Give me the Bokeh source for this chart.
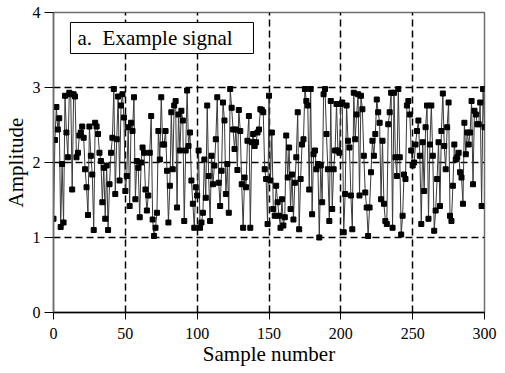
from bokeh.plotting import figure
from bokeh.models import Range1d, FixedTicker, BoxAnnotation, Label, ColumnDataSource
from bokeh.embed import file_html
from bokeh.resources import INLINE

# Amplitude values, split by sample range
amp_000_047 = [1.25, 2.30, 2.74, 2.44, 2.59, 1.14, 1.98, 1.20, 2.89, 2.40,
               2.07, 2.93, 2.91, 1.64, 2.91, 2.88, 2.07, 2.13, 2.36, 2.40,
               2.48, 2.33, 1.91, 1.67, 1.30, 2.48, 2.09, 1.84, 1.10, 2.53,
               2.48, 2.38, 2.13, 2.02, 1.47, 1.93, 1.25, 1.96, 1.10, 1.71,
               2.13, 2.33, 2.98, 1.58, 2.31, 2.88, 1.76, 2.76]
amp_048_098 = [2.91, 2.60, 1.62, 1.82, 2.47, 1.42, 2.53, 2.42, 2.87, 1.51,
               2.02, 1.93, 1.27, 2.00, 2.20, 2.13, 1.64, 1.36, 1.56, 2.13,
               2.62, 1.24, 1.02, 1.13, 1.33, 2.42, 2.04, 2.87, 2.24, 2.24,
               2.42, 1.89, 1.20, 1.69, 2.67, 1.91, 2.76, 2.82, 1.40, 2.64,
               2.16, 2.69, 2.56, 1.22, 2.16, 2.96, 2.22, 2.40, 1.76, 1.45,
               1.13]
amp_099_153 = [1.67, 1.56, 2.16, 1.13, 1.20, 1.33, 2.04, 1.53, 2.76, 1.82,
               1.22, 2.09, 1.71, 1.96, 2.31, 2.87, 1.73, 1.42, 1.89, 2.80,
               2.56, 1.58, 1.98, 1.33, 2.98, 2.73, 2.44, 2.18, 2.44, 1.90,
               2.70, 2.42, 1.71, 1.13, 1.80, 1.67, 2.29, 2.62, 1.13, 2.27,
               2.38, 2.22, 2.27, 2.40, 2.44, 2.71, 2.70, 2.67, 1.91, 1.78,
               1.18, 2.89, 1.76, 2.40, 1.38]
amp_154_205 = [1.29, 1.69, 1.47, 1.29, 1.13, 1.51, 1.16, 1.27, 2.36, 1.80,
               2.20, 1.38, 1.84, 1.24, 1.73, 2.07, 2.67, 1.11, 1.78, 2.24,
               2.31, 2.98, 2.82, 2.76, 1.64, 2.98, 1.31, 2.11, 2.16, 1.91,
               1.98, 1.00, 1.96, 1.47, 2.91, 2.98, 2.38, 1.91, 1.22, 2.82,
               1.38, 1.91, 2.16, 2.78, 2.16, 2.13, 2.78, 2.80, 1.07, 1.58,
               2.76, 2.29]
amp_206_257 = [2.20, 1.56, 1.11, 2.93, 2.31, 2.64, 2.91, 1.56, 2.89, 2.71,
               2.09, 1.60, 1.40, 1.02, 1.40, 1.87, 2.29, 2.09, 2.38, 2.84,
               2.67, 2.53, 1.51, 2.29, 1.45, 1.22, 1.18, 2.51, 2.67, 2.93,
               1.13, 2.93, 2.07, 1.82, 2.98, 2.07, 1.04, 1.29, 1.84, 1.78,
               2.76, 2.82, 2.64, 2.16, 1.96, 2.00, 2.24, 2.42, 2.56, 2.09,
               1.18, 2.27]
amp_258_300 = [1.62, 2.47, 2.76, 1.25, 2.24, 2.76, 2.09, 1.09, 1.36, 1.78,
               2.27, 1.42, 2.42, 2.92, 2.22, 1.91, 2.47, 2.80, 1.29, 1.22,
               1.69, 2.24, 2.04, 2.07, 2.13, 1.87, 1.80, 1.45, 2.53, 2.11,
               2.40, 2.24, 2.40, 2.82, 1.71, 2.69, 2.64, 2.51, 2.51, 2.80,
               1.42, 2.98, 2.47]

amplitude = (amp_000_047 + amp_048_098 + amp_099_153 +
             amp_154_205 + amp_206_257 + amp_258_300)
sample = list(range(len(amplitude)))

x_ticks = [0, 50, 100, 150, 200, 250, 300]
y_ticks = [0, 1, 2, 3, 4]
x_grid = [50, 100, 150, 200, 250]
y_grid = [1, 2, 3]
title_text = "a.\u00a0 Example signal"

FONT = "Liberation Serif"

p = figure(frame_width=431, frame_height=300,
           x_range=Range1d(0, 300), y_range=Range1d(0, 4),
           output_backend="svg", toolbar_location=None,
           min_border_left=45, min_border_right=13,
           min_border_top=12, min_border_bottom=0)
p.background_fill_color = "white"
p.border_fill_color = "white"
p.outline_line_color = "#6e6e6e"
p.outline_line_width = 1.5

src = ColumnDataSource(dict(x=sample, y=amplitude))
p.line("x", "y", source=src, line_color="#3a3a3a", line_width=1)
p.scatter("x", "y", source=src, marker="square", size=5,
          fill_color="black", line_color="black")

# axes
p.xaxis.ticker = FixedTicker(ticks=x_ticks)
p.yaxis.ticker = FixedTicker(ticks=y_ticks)
for ax in (p.xaxis[0], p.yaxis[0]):
    ax.major_label_text_font = FONT
    ax.major_label_text_font_size = "16px"
    ax.major_label_text_color = "black"
    ax.axis_label_text_font = FONT
    ax.axis_label_text_font_size = "21px"
    ax.axis_label_text_font_style = "normal"
    ax.axis_label_text_color = "black"
    ax.minor_tick_line_color = None
    ax.major_tick_in = 0
    ax.major_tick_line_color = "black"
p.xaxis.axis_label = "Sample number"
p.yaxis.axis_label = "Amplitude"
p.xaxis.major_tick_out = 7
p.yaxis.major_tick_out = 9
p.xaxis.axis_line_color = "black"
p.xaxis.axis_line_width = 1.5
p.yaxis.axis_line_color = "#6e6e6e"
p.yaxis.axis_line_width = 1.5
p.xaxis.major_label_standoff = 8
p.yaxis.major_label_standoff = 4
p.xaxis.axis_label_standoff = 0
p.yaxis.axis_label_standoff = 2

# dashed grid
p.xgrid.ticker = FixedTicker(ticks=x_grid)
p.ygrid.ticker = FixedTicker(ticks=y_grid)
for g in (p.xgrid[0], p.ygrid[0]):
    g.grid_line_color = "black"
    g.grid_line_dash = "7 4"
    g.grid_line_width = 1.5

# legend-like box
box = BoxAnnotation(left=11.8, right=139.2, bottom=3.453, top=3.867,
                    fill_color="white", fill_alpha=1.0,
                    line_color="black", line_width=1, line_alpha=1.0)
p.add_layout(box)
lab = Label(x=16.7, y=3.66, text=title_text,
            text_font=FONT, text_font_size="21px", text_color="black",
            text_baseline="middle", text_align="left")
p.add_layout(lab)

open("out.html", "w").write(file_html(p, INLINE))
